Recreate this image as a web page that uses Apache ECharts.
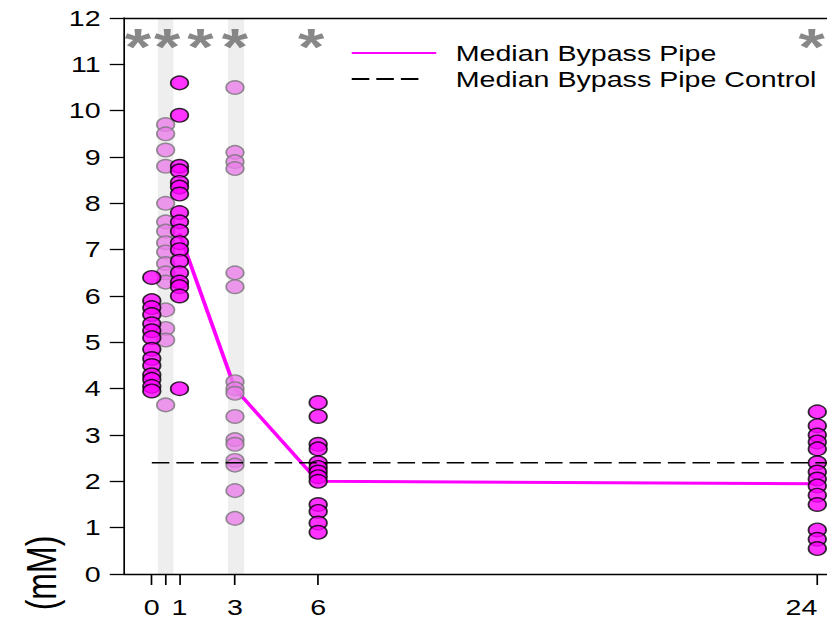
<!DOCTYPE html>
<html>
<head>
<meta charset="utf-8">
<script src="https://cdn.jsdelivr.net/npm/echarts@6/dist/echarts.min.js"></script>
<style>
  html, body { margin: 0; padding: 0; background: #fff; overflow: hidden; }
  #wrap { width: 827px; height: 621px; overflow: hidden; }
  /* the figure is laid out narrow and widened horizontally */
  #chart { width: 636px; height: 621px; transform: scaleX(1.30031); transform-origin: 0 0; }
</style>
</head>
<body>
<div id="wrap"><div id="chart"></div></div>
<script>
// sampling times (h) and concentrations (mM)
const shadedWindows = [[0.22, 0.78], [2.75, 3.33]];

const bypassTimes = [0, 1, 6, 24];
const bypassValues = [
  [6.4, 5.9, 5.75, 5.6, 5.4, 5.25, 5.1, 4.85, 4.65, 4.5, 4.3, 4.2, 4.05, 3.95],
  [10.6, 9.9, 8.8, 8.7, 8.45, 8.35, 8.2, 7.8, 7.6, 7.4, 7.15, 7.0, 6.75, 6.5, 6.3, 6.2, 6.0, 4.0],
  [3.7, 3.4, 2.8, 2.7, 2.4, 2.3, 2.2, 2.1, 2.0, 1.5, 1.35, 1.1, 0.9],
  [3.5, 3.2, 3.0, 2.85, 2.7, 2.4, 2.2, 2.05, 1.9, 1.7, 1.5, 0.95, 0.75, 0.55]
];

const controlTimes = [0.5, 3];
const controlValues = [
  [9.7, 9.5, 9.15, 8.8, 8.0, 7.6, 7.4, 7.15, 6.95, 6.7, 6.5, 6.3, 5.7, 5.3, 5.05, 3.65],
  [10.5, 9.1, 8.9, 8.75, 6.5, 6.2, 4.15, 4.0, 3.9, 3.4, 2.9, 2.8, 2.45, 2.35, 1.8, 1.2]
];

const medianTimes = [1, 3, 6, 24];
const medianValues = [7.35, 4.0, 2.0, 1.95];
const controlMedian = 2.4;

const starTimes = [-0.5, 0.55, 1.75, 3, 5.75, 23.8];
const starLevel = 11.5;

const xTickValues = [0, 0.5, 1, 3, 6, 24];
const xLabelValues = [0, 1, 3, 6, 24];

const X_MIN = -1, X_MAX = 24.35, Y_MIN = 0, Y_MAX = 12;
const FONT = "'Liberation Sans', Arial, Helvetica, sans-serif";

function pairs(times, groups) {
  const out = [];
  times.forEach((t, i) => groups[i].forEach(v => out.push([t, v])));
  return out;
}

const chart = echarts.init(document.getElementById('chart'), null, { renderer: 'svg' });

chart.setOption({
  animation: false,
  backgroundColor: '#fff',
  grid: { left: 95.4, right: 0, top: 18, bottom: 47, containLabel: false, outerBoundsMode: 'none' },
  legend: {
    orient: 'vertical',
    left: 264.5,
    top: 37,
    itemWidth: 65,
    itemHeight: 14,
    itemGap: 4,
    selectedMode: false,
    itemStyle: { opacity: 0 },
    textStyle: { fontFamily: FONT, fontSize: 22, color: '#000', lineHeight: 22, padding: [0, 0, 0, 10] },
    data: [
      { name: 'Median Bypass Pipe' },
      { name: 'Median Bypass Pipe Control', lineStyle: { type: [13.5, 5.4, 13.5, 5.4, 13.5, 30] } }
    ]
  },
  xAxis: [
    {
      type: 'value', min: X_MIN, max: X_MAX, position: 'bottom',
      axisLine: { show: true, onZero: false, lineStyle: { color: '#000', width: 1.3 } },
      axisTick: { show: true, length: 11, customValues: xTickValues, lineStyle: { color: '#000', width: 1.3 } },
      axisLabel: { customValues: xLabelValues, margin: 22, fontFamily: FONT, fontSize: 22, color: '#000',
                   alignMaxLabel: 'right' },
      splitLine: { show: false }
    },
    {
      type: 'value', min: X_MIN, max: X_MAX, position: 'top',
      axisLine: { show: true, onZero: false, lineStyle: { color: '#000', width: 1.3 } },
      axisTick: { show: false }, axisLabel: { show: false }, splitLine: { show: false }
    }
  ],
  yAxis: {
    type: 'value', min: Y_MIN, max: Y_MAX, interval: 1,
    axisLine: { show: true, onZero: false, lineStyle: { color: '#000', width: 1.3 } },
    axisTick: { show: true, length: 11, lineStyle: { color: '#000', width: 1.3 } },
    axisLabel: { margin: 18, fontFamily: FONT, fontSize: 22, color: '#000' },
    splitLine: { show: false }
  },
  graphic: [{
    type: 'text',
    x: 31.5, y: 573,
    rotation: Math.PI / 2,
    style: { text: '(mM)', fontFamily: FONT, fontSize: 32, fill: '#000', align: 'center', verticalAlign: 'middle' }
  }],
  series: [
    {
      name: 'windows', type: 'custom', silent: true, z: 0,
      data: shadedWindows,
      encode: { x: [0, 1] },
      renderItem: (params, api) => {
        const a = api.coord([api.value(0), Y_MAX]);
        const b = api.coord([api.value(1), Y_MIN]);
        return { type: 'rect', shape: { x: a[0], y: a[1], width: b[0] - a[0], height: b[1] - a[1] },
                 style: { fill: '#eeeeee' } };
      }
    },
    {
      name: 'Median Bypass Pipe', type: 'line', z: 2, symbol: 'none',
      data: medianTimes.map((t, i) => [t, medianValues[i]]),
      lineStyle: { color: '#ff00ff', width: 3 }, itemStyle: { color: '#ff00ff' }
    },
    {
      name: 'Bypass Pipe Control', type: 'scatter', z: 3,
      data: pairs(controlTimes, controlValues),
      symbol: 'circle', symbolSize: 13.5,
      itemStyle: { color: '#ea7eea', borderColor: '#777', borderWidth: 1.4 }
    },
    {
      name: 'Bypass Pipe', type: 'scatter', z: 4,
      data: pairs(bypassTimes, bypassValues),
      symbol: 'circle', symbolSize: 13.5,
      itemStyle: { color: '#ff00ff', borderColor: '#000', borderWidth: 1.4 }
    },
    {
      name: 'Median Bypass Pipe Control', type: 'line', z: 5, symbol: 'none',
      data: [[0, controlMedian], [X_MAX, controlMedian]],
      lineStyle: { color: '#000', width: 1.5, type: [13.5, 5.4] }, itemStyle: { color: '#000' }
    },
    {
      name: 'significance', type: 'scatter', z: 6, silent: true,
      data: starTimes.map(t => [t, starLevel]),
      symbolSize: 1, itemStyle: { color: 'transparent' },
      label: {
        show: true, position: 'inside', formatter: '*', offset: [0, 5.5],
        fontFamily: FONT, fontWeight: 'bold', fontSize: 52, lineHeight: 26, color: '#6a6a6a'
      }
    }
  ]
});
</script>
</body>
</html>
